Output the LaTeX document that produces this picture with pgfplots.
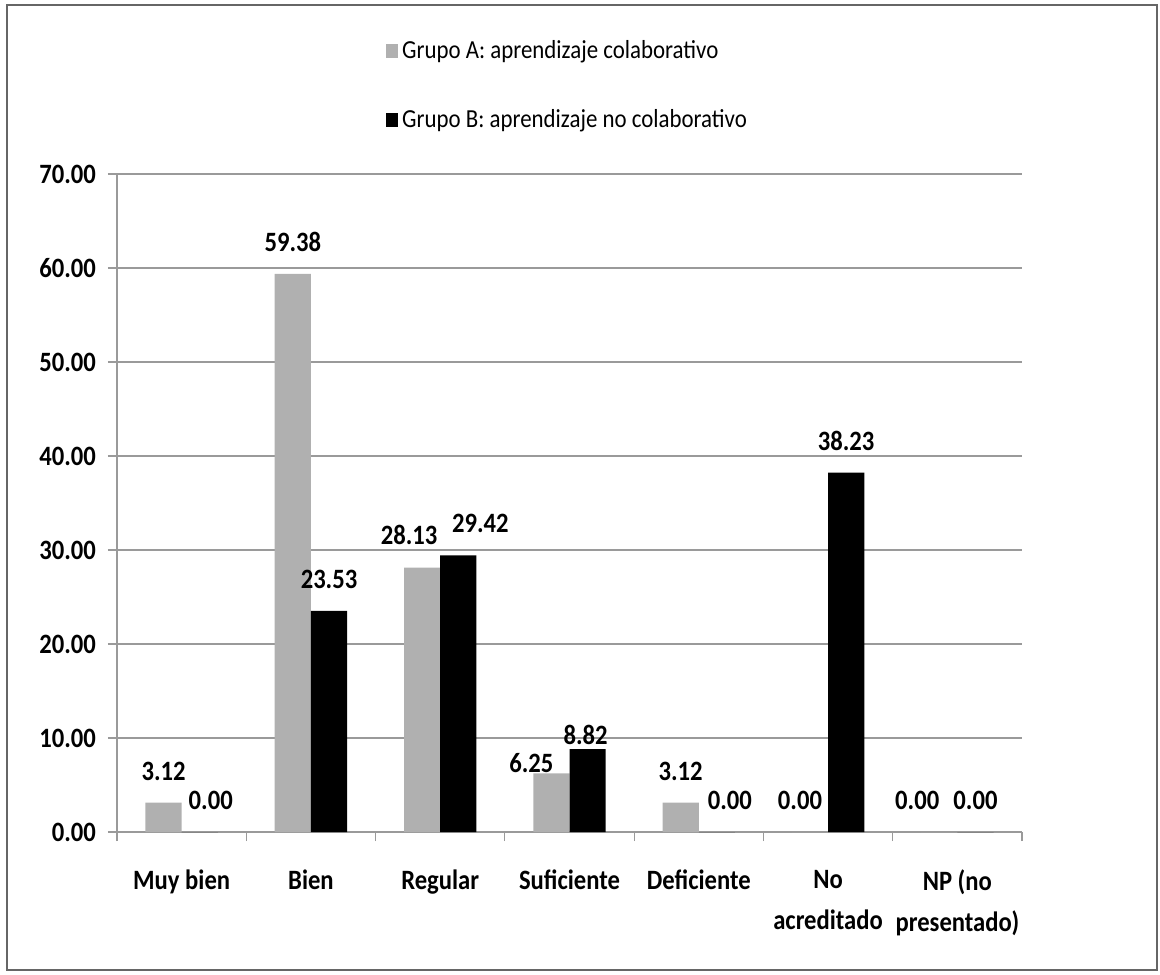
\documentclass[border=0pt]{standalone}
\usepackage{pgfplots}
\pgfplotsset{compat=1.18}
\usepackage{fontspec}
\setmainfont{Carlito}[FakeStretch=0.88]
\definecolor{barA}{HTML}{B0B0B0}
\definecolor{gridc}{HTML}{9A9A9A}
\pgfplotstableread{
x y dx dy
0 3.12 0 11
1 59.38 0 11
2 28.13 -6.5 11
3 6.25 -10 0
4 3.12 0 11
5 0.00 -5 11
6 0.00 -11 11
}\grupoA
\pgfplotstableread{
x y dx dy
0 0.00 5.5 11
1 23.53 0 11
2 29.42 11 11
3 8.82 -1 2
4 0.00 6.5 11
5 38.23 0 11
6 0.00 0 11
}\grupoB
\begin{document}
\begin{tikzpicture}
\begin{axis}[
  scale only axis,
  width=452.5pt, height=329pt,
  ymin=0, ymax=70,
  xmin=-0.5, xmax=6.5,
  ytick={0,10,...,70},
  ymajorgrids, grid style={gridc, line width=0.6pt},
  axis lines=left,
  axis line style={-, gridc, line width=0.6pt},
  xtick={0,...,6},
  xticklabels={Muy bien,Bien,Regular,Suficiente,Deficiente,No\\acreditado,NP (no\\presentado)},
  xticklabel style={align=center, font=\fontsize{14}{20.5}\selectfont\bfseries, yshift=-11pt, anchor=north},
  xtick style={draw=none},
  extra x ticks={-0.5,0.5,...,6.5},
  extra x tick labels={},
  extra x tick style={xtick style={draw=gridc, line width=0.6pt}, major tick length=4.5pt, tick align=outside, grid=none},
  ytick style={draw=gridc, line width=0.6pt},
  tick align=outside,
  major tick length=4.5pt,
  yticklabel style={font=\fontsize{14}{16}\selectfont\bfseries, xshift=-2.5pt},
  /pgf/number format/assume math mode=true,
  yticklabel={\pgfmathprintnumber[fixed,fixed zerofill,precision=2]{\tick}},
  ybar, bar width=0.28,
  nodes near coords,
  visualization depends on={\thisrow{dx} \as \dx},
  visualization depends on={\thisrow{dy} \as \dy},
  nodes near coords style={font=\fontsize{14}{16}\selectfont\bfseries, inner sep=0pt, anchor=south, xshift=\dx pt, yshift=\dy pt, /pgf/number format/.cd, fixed, fixed zerofill, precision=2, assume math mode=true},
  legend style={at={(0.297,1.209)}, anchor=north west, draw=none, fill=none, font=\fontsize{13}{15}\selectfont, row sep=20pt, legend cell align=left, inner sep=0pt},
  legend image code/.code={\fill[#1, draw=none] (0pt,-3.5pt) rectangle (6pt,3.5pt);},
  clip=false,
]
\addplot[fill=barA, draw=none, bar shift=-0.14] table[x=x, y=y] {\grupoA};
\addplot[fill=black, draw=none, bar shift=0.14] table[x=x, y=y] {\grupoB};
\legend{Grupo A: aprendizaje colaborativo, Grupo B: aprendizaje no colaborativo}
\end{axis}
\draw[gray!80!black, line width=0.8pt] (current axis.south west) ++(-55pt,-69pt) rectangle ++(575pt,482.5pt);
\path (current axis.south west) ++(-58.5pt,-71pt) rectangle ++(580pt,487pt);
\end{tikzpicture}
\end{document}
